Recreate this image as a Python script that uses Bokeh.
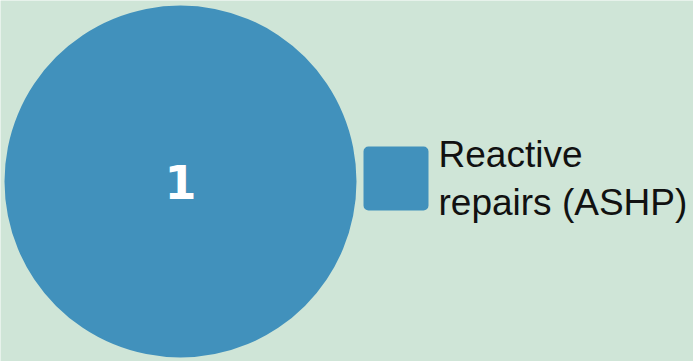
import numpy as np
from bokeh.plotting import figure
from bokeh.models import ColumnDataSource, BoxAnnotation
from bokeh.core.properties import value
from bokeh.embed import file_html
from bokeh.resources import INLINE

categories = ["Reactive repairs (ASHP)"]
values = [1]
legend_labels = ["Reactive\nrepairs (ASHP)"]
colors = ["#4191bc"]

W, H = 693, 361
BG = "#cfe5d7"

vals = np.array(values, dtype=float)
ends = np.cumsum(vals) / vals.sum() * 2 * np.pi
starts = np.concatenate([[0], ends[:-1]])

cx, cy, r = 180, 361 - 181, 176

src = ColumnDataSource(dict(
    cat=categories, val=values, start=starts, end=ends, color=colors,
    x=[cx] * len(values), y=[cy] * len(values),
    lab=[str(v) for v in values],
))

p = figure(width=W, height=H, x_range=(0, W), y_range=(0, H),
           output_backend="svg", toolbar_location=None,
           min_border=0, background_fill_color=BG, border_fill_color=BG,
           outline_line_color=None)
p.axis.visible = False
p.grid.visible = False

p.wedge(x="x", y="y", radius=r, start_angle="start", end_angle="end",
        fill_color="color", line_color=None, source=src)
p.text(x="x", y="y", text="lab", source=src, text_color="white",
       text_font=value("DejaVu Sans"), text_font_style="bold",
       text_font_size="46px", text_align="center", text_baseline="middle")

# legend
sw_left, sw_right, sw_bottom, sw_top = 363, 428, 361 - 210, 361 - 146
for i, (lab, col) in enumerate(zip(legend_labels, colors)):
    box = BoxAnnotation(left=sw_left, right=sw_right, bottom=sw_bottom, top=sw_top,
                        fill_color=col, fill_alpha=1.0, line_color=None,
                        border_radius=5, level="overlay")
    p.add_layout(box)
    p.text(x=[438], y=[(sw_bottom + sw_top) / 2], text=[lab], text_color="#111111",
           text_font=value("Liberation Sans"), text_font_size="37px",
           text_align="left", text_baseline="middle", text_line_height=1.17)

open("out.html", "w").write(file_html(p, INLINE))
